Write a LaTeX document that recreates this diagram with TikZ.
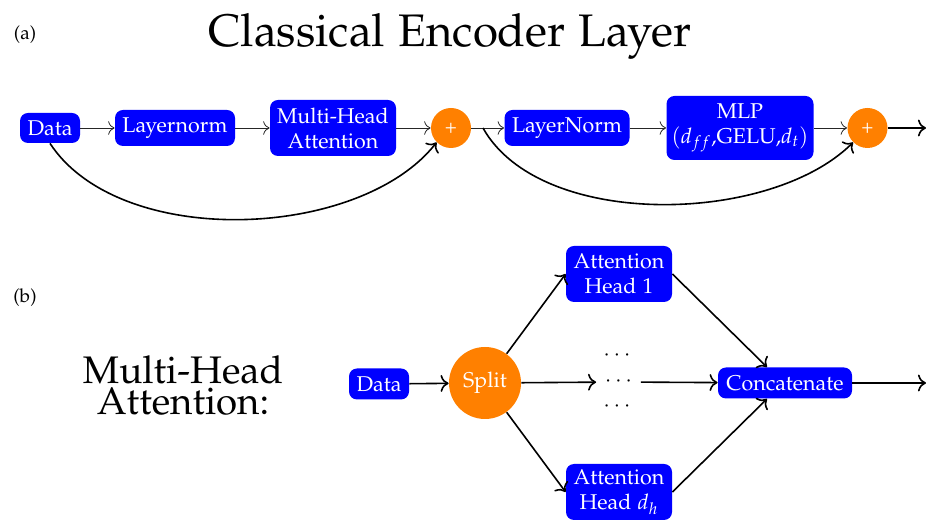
\documentclass[tikz,border=0pt]{standalone}
\usepackage[T1]{fontenc}
\usepackage[sc]{mathpazo}
\usetikzlibrary{calc,arrows.meta}
\definecolor{boxblue}{RGB}{0,0,255}
\definecolor{sumorange}{RGB}{255,128,0}
\tikzset{
  bluebox/.style={fill=boxblue, text=white, rounded corners=4pt, align=center,
    font=\fontsize{10.7}{12.5}\selectfont, inner sep=0pt},
  sumcirc/.style={circle, fill=sumorange, text=white, minimum size=20pt, inner sep=0pt,
    font=\fontsize{10}{11}\selectfont},
  thinarrow/.style={-{To[scale=1.3]}, thin, black!85},
  curvearrow/.style={-{To[scale=1.2]}, thick},
  bigarrow/.style={-{To[scale=1.2]}, thick},
  dotsnode/.style={inner sep=0pt, minimum width=22pt, minimum height=10pt, font=\fontsize{10.7}{12}\selectfont},
}
\begin{document}
\begin{tikzpicture}[x=0.5pt, y=-0.5pt]
\useasboundingbox (0,0) rectangle (926,522);
% labels
\node[font=\fontsize{9.5}{11}\selectfont] (lbla) at (25,35) {(a)};
\node[anchor=base, font=\fontsize{22.8}{27}\selectfont] (title) at (450,47) {Classical Encoder Layer};
\node[font=\fontsize{9.5}{11}\selectfont] (lblb) at (25,298) {(b)};
\node[align=center, font=\fontsize{19.2}{15.5}\selectfont] (mhatitle) at (183,386) {Multi-Head\\Attention:};
% top row
\node[bluebox, minimum width=30pt, minimum height=15pt] (d1) at (50,128) {Data};
\node[bluebox, minimum width=60pt, minimum height=18pt] (ln1) at (175,128) {Layernorm};
\node[bluebox, minimum width=63pt, minimum height=28pt] (mha) at (333,128) {Multi-Head\\Attention};
\node[sumcirc] (p1) at (451,128) {+};
\node[bluebox, minimum width=62.5pt, minimum height=18pt] (ln2) at (567,128) {LayerNorm};
\node[bluebox, minimum width=73.5pt, minimum height=32pt] (mlp) at (740,128) {MLP\\$(d_{ff}$,GELU,$d_t)$};
\node[sumcirc] (p2) at (867.5,128) {+};
\coordinate (out1) at (926,128);
\coordinate (c2) at (483,128);
\draw[thinarrow] (d1) -- (ln1);
\draw[thinarrow] (ln1) -- (mha);
\draw[thinarrow] (mha) -- (p1);
\draw[thinarrow] (p1) -- (ln2);
\draw[thinarrow] (ln2) -- (mlp);
\draw[thinarrow] (mlp) -- (p2);
\draw[bigarrow] (p2) -- (out1);
\draw[curvearrow] (d1.south) .. controls (120,250) and (360,240) .. (p1.225);
\draw[curvearrow] (c2) .. controls (540,230) and (770,225) .. (p2.225);
% bottom row
\node[bluebox, minimum width=30pt, minimum height=15.5pt] (d2) at (379,384) {Data};
\node[circle, fill=sumorange, text=white, minimum size=36pt, inner sep=0pt,
  font=\fontsize{10.7}{12.5}\selectfont] (sp) at (485,383) {Split};
\node[bluebox, minimum width=53pt, minimum height=28pt] (ah1) at (619,274) {Attention\\Head 1};
\node[bluebox, minimum width=53pt, minimum height=28pt] (ahd) at (619,492) {Attention\\Head $d_h$};
\node[dotsnode] (dt) at (617,356) {$\cdots$};
\node[dotsnode] (dm) at (618.5,382) {$\cdots$};
\node[dotsnode] (db) at (617,407) {$\cdots$};
\node[bluebox, minimum width=67pt, minimum height=15.5pt] (cc) at (785,383) {Concatenate};
\coordinate (out2) at (926,383);
\draw[bigarrow] (d2) -- (sp);
\draw[bigarrow] (sp) -- (ah1.west);
\draw[bigarrow] (sp) -- (ahd.west);
\draw[bigarrow] (sp) -- (dm);
\draw[bigarrow] (dm) -- (cc);
\draw[bigarrow] (ah1.east) -- ([xshift=-9pt]cc.north);
\draw[bigarrow] (ahd.east) -- ([xshift=-9pt]cc.south);
\draw[bigarrow] (cc) -- (out2);
\end{tikzpicture}
\end{document}
